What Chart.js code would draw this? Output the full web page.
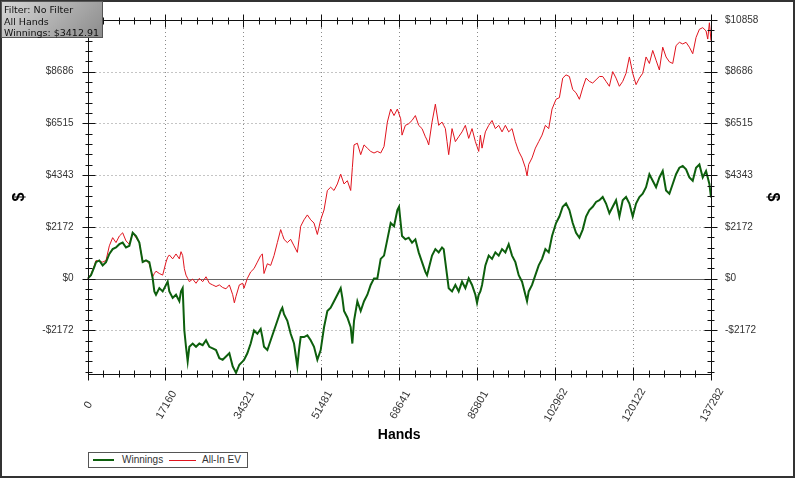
<!DOCTYPE html>
<html>
<head>
<meta charset="utf-8">
<script src="https://cdn.jsdelivr.net/npm/chart.js@4/dist/chart.umd.min.js"></script>
<style>
  html,body{margin:0;padding:0;background:#fff;overflow:hidden}
  #wrap{position:relative;width:799px;height:479px}
  #info{position:absolute;left:1px;top:1px;width:102px;height:37px;border:1px solid #555;
    background:linear-gradient(135deg,#d6d6d6,#8c8c8c);font:9.5px "DejaVu Sans",sans-serif;line-height:11.5px;color:#111;padding:2px 0 0 2px;box-sizing:border-box;white-space:nowrap}
  #legend{position:absolute;left:88px;top:452px;width:160px;height:16px;border:1px solid #555;background:#fff;box-sizing:border-box;
    font:10px "Liberation Sans",Arial,sans-serif;color:#333}
  #legend span{position:absolute;top:1px}
  #legend i{position:absolute;display:block}
</style>
</head>
<body>
<div id="wrap">
  <canvas id="c" width="799" height="479"></canvas>
  <div id="info">Filter: No Filter<br>All Hands<br>Winnings: $3412.91</div>
  <div id="legend">
    <i style="left:4px;top:6px;width:21px;height:2px;background:#0d5f0d"></i><span style="left:33px">Winnings</span>
    <i style="left:80px;top:7px;width:27px;height:1px;background:#e0141e"></i><span style="left:113px">All-In EV</span>
  </div>
</div>
<script>
const X_TICKS=[0,17160,34321,51481,68641,85801,102962,120122,137282]
const Y_TICKS=[-2172,0,2172,4343,6515,8686,10858]
const Y_MIN=-4000,Y_MAX=10858

const HANDS=[
  0,771,1505,1872,2606,3340,4074,4808,5542,6276,7010,7744,8478,9212,9946,10680,11414,12148,12882,13616,14350,14717,
  15084,15818,16552,17286,17653,18020,18754,19488,20222,20589,20956,21323,21690,22057,22424,23158,23892,24626,25360,
  26094,26828,27562,28296,29030,29764,30498,31232,31966,32333,32700,33434,34168,
  34461,35195,35929,36663,37397,38131,38498,38865,39599,40333,41067,41801,42535,42902,43269,44003,44737,45471,46205,
  46572,46939,47673,48407,49141,49875,50609,51343,52077,52811,53545,54279,55013,55747,56114,56481,57215,57949,58316,
  58683,59417,60151,60885,61619,62353,63087,63821,64555,65289,66023,66757,67491,68225,68592,68959,
  69253,69987,70721,71455,72189,72923,73657,74391,74758,75125,75859,76593,77327,78061,78428,78795,79162,79529,80263,
  80997,81731,82465,83199,83933,84667,85401,85768,86135,86502,86869,87603,88337,89071,89805,90539,91273,92007,92741,
  93475,94209,94943,95677,96411,96778,97145,97879,98613,99347,100081,100815,101549,102283,
  103164,103898,104632,105366,106100,106834,107568,108302,109036,109770,110504,111238,111972,112706,113440,114174,
  114908,115642,116376,117110,117844,118578,119312,120046,120780,121514,122248,122982,123716,124450,125184,125918,
  126652,127386,128120,128854,129588,130322,131056,131790,132524,133258,133992,134726,135460,136194,136561,136928,137282]

const WINNINGS=[
  0,150,491,696,765,560,696,1038,1243,1311,1448,1516,1311,1380,1927,1790,1516,696,765,696,13,-534,
  -671,-397,-534,-261,-124,-534,-808,-671,-944,-534,-397,-2175,-2858,-3473,-2858,-2721,-2858,-2721,-2790,
  -2585,-2858,-2926,-2995,-3336,-3405,-3268,-3131,-3678,-3815,-3952,-3610,-3473,
  -3406,-3132,-2722,-2175,-2312,-2107,-2449,-2859,-2995,-2585,-2175,-1765,-1355,-1219,-1492,-1765,-2312,-2722,-3679,
  -2995,-2449,-2449,-2380,-2585,-2859,-3406,-2995,-2039,-1355,-1219,-945,-672,-398,-808,-1355,-1629,-2039,-2722,
  -1765,-945,-1355,-945,-672,-262,12,12,832,969,1652,2336,2199,2883,3019,2336,
  1789,1652,1721,1515,1652,1105,695,285,148,422,969,1242,1105,1310,1242,695,148,-398,-535,
  -262,-535,-125,-398,12,-262,-672,-1014,-672,-535,-262,559,969,832,1105,969,1242,1105,1447,
  969,695,148,-125,-672,-945,-535,-262,148,559,832,1242,1105,1789,
  2335,2608,3018,3155,2882,2335,1925,1720,2062,2608,2882,3018,3223,3292,3428,3155,
  2745,3018,3292,2608,3292,3428,3155,2608,3155,3428,3565,3838,4385,4112,3838,4249,
  4522,3702,3565,3975,4385,4659,4727,4590,4249,4112,4659,4796,4249,4522,4249,3975,3412.91]

const ALLIN_EV=[
  0,177,560,765,724,696,765,1380,1722,1516,1790,1927,1585,1448,1927,1722,1516,696,765,628,81,218,
  314,218,150,696,902,997,833,1038,833,1134,970,423,150,13,-124,-15,-192,13,-124,
  81,-192,-261,-329,-261,-370,-425,-261,-671,-1012,-739,-261,-192,
  -398,12,285,422,695,969,1037,217,627,559,969,1515,2062,1857,1652,1515,1652,1379,1105,
  1652,2199,2472,2677,2472,2336,1857,2472,2883,3703,3840,3703,3976,4386,4181,3976,4113,3703,4660,
  5616,5685,5206,5616,5480,5343,5275,5343,5275,5548,6574,7120,6847,7120,6915,6710,
  6026,6436,6505,6641,6847,6436,6300,5958,5821,5616,6573,7325,6436,6573,6436,6300,5753,5206,6300,
  5753,5958,6163,6436,5890,6300,5753,5548,5343,6026,5480,6163,6436,6641,6300,6436,6163,6436,6163,
  6300,5753,5343,5070,4659,4317,4796,5070,5480,5753,6026,6436,6300,7120,
  7530,7598,8418,8555,8486,7940,7803,7530,8008,8418,8281,8213,8350,8486,8486,8281,
  8076,8691,8418,8076,8281,8623,9307,8623,8145,8418,8623,9307,9033,9580,9170,8760,
  9717,9307,9102,9033,9785,9922,9853,9922,9717,9443,10127,10468,10537,10400,10058,10742,9990]

const tf={family:'"Liberation Sans", Arial, sans-serif',size:10}
const money=v=>(v<0?'-$':'$')+Math.abs(v)

function minors(ticks,lo,hi){
  const out=[],step=(ticks[1]-ticks[0])/5
  for(let v=ticks[0]-step*25;v<=hi+1;v+=step){
    if(v>=lo-1&&!ticks.some(t=>Math.abs(t-v)<step/2))out.push(v)
  }
  return out
}

const axisPlugin={
  id:'axisPlugin',
  beforeDatasetsDraw(chart){
    const {ctx,chartArea:a,scales:{x,y}}=chart
    ctx.save()
    ctx.lineWidth=1
    ctx.strokeStyle='#8a8a8a'
    ctx.setLineDash([1,3])
    ctx.beginPath()
    Y_TICKS.forEach(v=>{
      if(v===0||v===Y_MAX)return
      const p=Math.round(y.getPixelForValue(v))+0.5
      ctx.moveTo(a.left,p);ctx.lineTo(a.right,p)
    })
    X_TICKS.slice(1,-1).forEach(v=>{
      const p=Math.round(x.getPixelForValue(v))+0.5
      ctx.moveTo(p,a.top);ctx.lineTo(p,a.bottom)
    })
    ctx.stroke()
    ctx.setLineDash([])
    ctx.strokeStyle='#666'
    const z=Math.round(y.getPixelForValue(0))+0.5
    ctx.beginPath();ctx.moveTo(a.left,z);ctx.lineTo(a.right,z);ctx.stroke()
    ctx.restore()
  },
  afterDatasetsDraw(chart){
    const {ctx,chartArea:a,scales:{x,y}}=chart
    const L=Math.round(a.left)+0.5,R=Math.round(a.right)+0.5,T=Math.round(a.top)+0.5,B=Math.round(a.bottom)+0.5
    ctx.save()
    ctx.strokeStyle='#111'
    ctx.lineWidth=1
    ctx.beginPath()
    ctx.moveTo(L,T);ctx.lineTo(R,T);ctx.lineTo(R,B);ctx.lineTo(L,B);ctx.closePath()
    // y ticks, both sides
    const yt=(v,n)=>{const p=Math.round(y.getPixelForValue(v))+0.5
      ctx.moveTo(L-n,p);ctx.lineTo(L+n+1,p);ctx.moveTo(R-n-1,p);ctx.lineTo(R+n,p)}
    Y_TICKS.forEach(v=>yt(v,6))
    minors(Y_TICKS,Y_MIN,Y_MAX).forEach(v=>yt(v,3))
    // x ticks, top and bottom
    const xt=(v,n)=>{const p=Math.round(x.getPixelForValue(v))+0.5
      ctx.moveTo(p,B-n-1);ctx.lineTo(p,B+n);ctx.moveTo(p,T-n);ctx.lineTo(p,T+n+1)}
    X_TICKS.forEach(v=>xt(v,6))
    minors(X_TICKS,0,137282).forEach(v=>xt(v,3))
    ctx.stroke()
    ctx.restore()
  },
  afterDraw(chart){
    const {ctx,scales:{x}}=chart
    ctx.save()
    ctx.fillStyle='#333'
    ctx.font='11px "Liberation Sans", Arial, sans-serif'
    ctx.textAlign='center'
    ctx.textBaseline='middle'
    X_TICKS.forEach(v=>{
      ctx.save()
      ctx.translate(x.getPixelForValue(v)+1,405)
      ctx.rotate(-Math.PI/3)
      ctx.fillText(String(v),0,0)
      ctx.restore()
    })
    ctx.strokeStyle='#333'
    ctx.lineWidth=2
    ctx.strokeRect(1,1,793,476)
    ctx.restore()
  }
}

const yScale=(pos,w,pad)=>({
  type:'linear',position:pos,min:Y_MIN,max:Y_MAX,
  grid:{display:false,drawTicks:false},border:{display:false},
  afterBuildTicks:s=>{s.ticks=Y_TICKS.map(v=>({value:v}))},
  afterFit:s=>{s.width=w},
  ticks:{color:'#333',font:tf,padding:14,callback:money},
  title:{display:true,text:'$',color:'#000',font:{family:'"Liberation Sans", Arial, sans-serif',size:16,weight:'bold'},padding:{top:pad,bottom:0}}
})

new Chart(document.getElementById('c'),{
  type:'line',
  data:{datasets:[
    {label:'Winnings',data:HANDS.map((h,i)=>({x:h,y:WINNINGS[i]})),borderColor:'#0d5f0d',borderWidth:2,pointRadius:0,tension:0,yAxisID:'y'},
    {label:'All-In EV',data:HANDS.map((h,i)=>({x:h,y:ALLIN_EV[i]})),borderColor:'#e0141e',borderWidth:1,pointRadius:0,tension:0,yAxisID:'y'}
  ]},
  options:{
    responsive:false,animation:false,devicePixelRatio:1,
    layout:{padding:{top:12,left:0,right:0,bottom:0}},
    plugins:{legend:{display:false},tooltip:{enabled:false}},
    scales:{
      x:{type:'linear',min:0,max:137282,
        grid:{display:false,drawTicks:false},border:{display:false},
        afterBuildTicks:s=>{s.ticks=X_TICKS.map(v=>({value:v}))},
        afterFit:s=>{s.height=105},
        ticks:{display:false},
        title:{display:true,text:'Hands',color:'#000',font:{family:'"Liberation Sans", Arial, sans-serif',size:14,weight:'bold'},padding:{top:0,bottom:35}}},
      y:yScale('left',87.5,10),
      y2:yScale('right',88,17)
    }
  },
  plugins:[axisPlugin]
})
</script>
</body>
</html>
